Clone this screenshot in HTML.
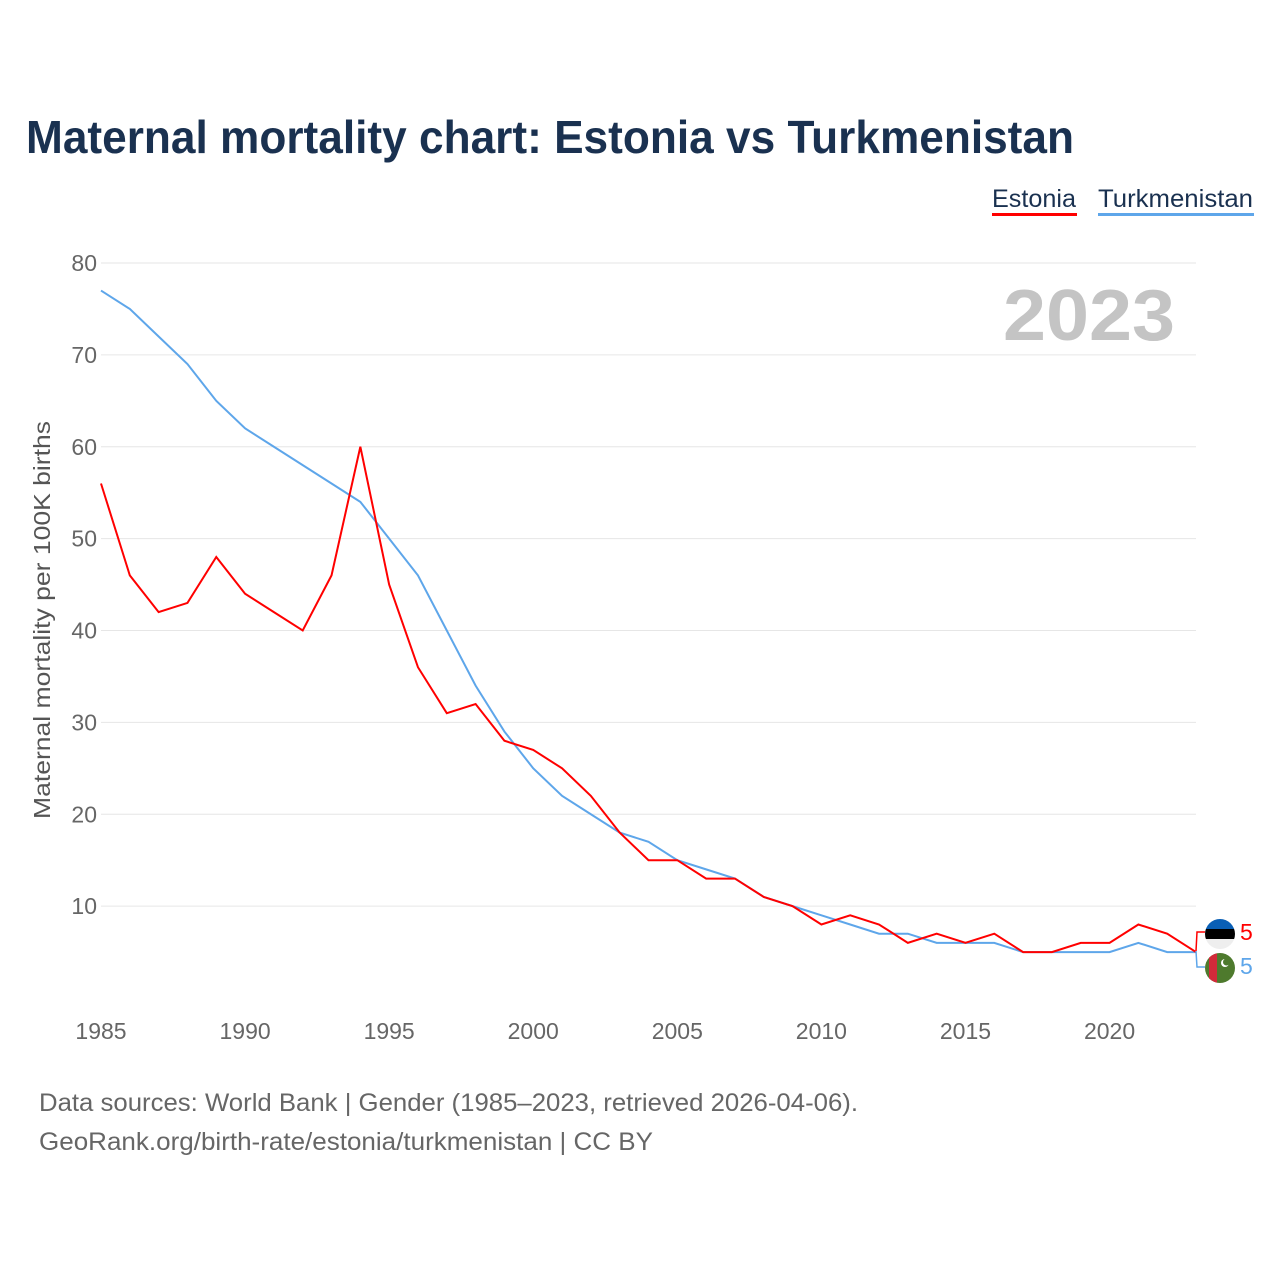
<!DOCTYPE html>
<html><head><meta charset="utf-8"><style>
body{margin:0;background:#fff;font-family:"Liberation Sans",sans-serif;}
#wrap{position:relative;width:1280px;height:1280px;overflow:hidden;}
</style></head><body>
<div id="wrap">
<svg id="chart" width="1280" height="1280">
<text x="26" y="153" font-size="46" font-weight="bold" fill="#1a3150" textLength="1048" lengthAdjust="spacingAndGlyphs">Maternal mortality chart: Estonia vs Turkmenistan</text>
<g><text x="992" y="207" font-size="25" fill="#1a3150" textLength="84" lengthAdjust="spacingAndGlyphs">Estonia</text><rect x="992" y="213" width="85" height="3" fill="#ff0000"/></g>
<g><text x="1098" y="207" font-size="25" fill="#1a3150" textLength="155" lengthAdjust="spacingAndGlyphs">Turkmenistan</text><rect x="1098" y="213" width="156" height="3" fill="#5ea6ea"/></g>
<text x="1175" y="340" font-size="72" font-weight="bold" fill="#c4c4c4" text-anchor="end" textLength="172" lengthAdjust="spacingAndGlyphs">2023</text>
<text transform="translate(50,620) rotate(-90)" font-size="23" fill="#555" text-anchor="middle" textLength="398" lengthAdjust="spacingAndGlyphs">Maternal mortality per 100K births</text>
<g id="grid"></g><g id="xt"></g><g id="lines"></g>
<g>
<path d="M1196 951 L1197 932 L1205 932" stroke="#f00" stroke-width="1.5" fill="none"/>
<path d="M1196 951 L1197 967 L1205 967" stroke="#5ea6ea" stroke-width="1.5" fill="none"/>
<clipPath id="c1"><circle cx="1220" cy="934" r="15"/></clipPath>
<g clip-path="url(#c1)"><rect x="1205" y="919" width="30" height="10" fill="#0a5fb5"/><rect x="1205" y="929" width="30" height="10" fill="#000"/><rect x="1205" y="939" width="30" height="10" fill="#eee"/></g>
<clipPath id="c2"><circle cx="1220" cy="968" r="15"/></clipPath>
<g clip-path="url(#c2)"><rect x="1205" y="953" width="30" height="30" fill="#4e7a2d"/><rect x="1209" y="953" width="8" height="30" fill="#d22a3a"/><circle cx="1225" cy="963" r="4" fill="#fff"/><circle cx="1226.5" cy="962" r="3.5" fill="#4e7a2d"/></g>
<text x="1240" y="940" font-size="23" fill="#f00">5</text>
<text x="1240" y="974" font-size="23" fill="#5ea6ea">5</text>
</g>
<text x="39" y="1111" font-size="25" fill="#666" textLength="819" lengthAdjust="spacingAndGlyphs">Data sources: World Bank | Gender (1985–2023, retrieved 2026-04-06).</text>
<text x="39" y="1150" font-size="25" fill="#666" textLength="614" lengthAdjust="spacingAndGlyphs">GeoRank.org/birth-rate/estonia/turkmenistan | CC BY</text>
</svg>
</div>
<script>
const years=[];for(let y=1985;y<=2023;y++)years.push(y);
const estonia=[56,46,42,43,48,44,42,40,46,60,45,36,31,32,28,27,25,22,18,15,15,13,13,11,10,8,9,8,6,7,6,7,5,5,6,6,8,7,5];
const turkmenistan=[77,75,72,69,65,62,60,58,56,54,50,46,40,34,29,25,22,20,18,17,15,14,13,11,10,9,8,7,7,6,6,6,5,5,5,5,6,5,5];
const yTicks=[10,20,30,40,50,60,70,80];
const xTicks=[1985,1990,1995,2000,2005,2010,2015,2020];
const NS="http://www.w3.org/2000/svg";
const xs=y=>101+(y-1985)*(1196-101)/38;
const ys=v=>998-v*(998-263)/80;
function mk(t,a,p){const e=document.createElementNS(NS,t);for(const k in a)e.setAttribute(k,a[k]);p.appendChild(e);return e;}
const g=document.getElementById('grid');
yTicks.forEach(v=>{
 const l=mk('line',{x1:101,x2:1196,y1:ys(v),y2:ys(v),stroke:'#e6e6e6','stroke-width':1},g);
 
 
 const t=mk('text',{x:97,y:ys(v)+8,'font-size':23,fill:'#666','text-anchor':'end'},g);t.textContent=v;
 
 
});
const xt=document.getElementById('xt');
xTicks.forEach(v=>{
 const t=mk('text',{x:xs(v),y:1039,'font-size':23,fill:'#666','text-anchor':'middle'},xt);t.textContent=v;
 
 
});
const L=document.getElementById('lines');
[[turkmenistan,'#5ea6ea','turkmenistan-line'],[estonia,'#ff0000','estonia-line']].forEach(([d,c,n])=>{
 const p=mk('polyline',{points:d.map((v,i)=>xs(years[i])+','+ys(v)).join(' '),fill:'none',stroke:c,'stroke-width':2},L);
 
 
});
</script>
</body></html>
